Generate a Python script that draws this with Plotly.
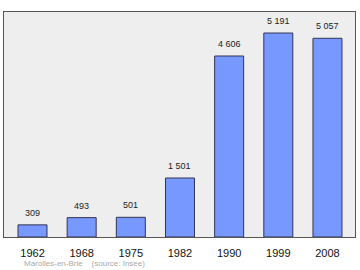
import plotly.graph_objects as go

years = ["1962", "1968", "1975", "1982", "1990", "1999", "2008"]
population = [309, 493, 501, 1501, 4606, 5191, 5057]
labels = [f"{v:,}".replace(",", " ") for v in population]
source_text = "Marolles-en-Brie    (source: Insee)"

fig = go.Figure()
fig.add_trace(go.Bar(
    x=years, y=population, width=0.59,
    marker=dict(color="#7799ff", line=dict(color="#333355", width=1)),
    hoverinfo="skip",
))
for i, (v, t) in enumerate(zip(population, labels)):
    fig.add_annotation(x=i, y=v, xref="x", yref="y", text=t, showarrow=False, yanchor="bottom",
                       yshift=5, font=dict(family="Liberation Sans", size=9, color="#222"))
fig.add_annotation(xref="paper", yref="paper", x=0.05, y=-0.09, xanchor="left", yanchor="top",
                   text=source_text, showarrow=False,
                   font=dict(family="Liberation Sans", size=8, color="#aaaaaa"))

fig.update_layout(
    width=360, height=270,
    margin=dict(l=4, r=5, t=12, b=33),
    paper_bgcolor="white", plot_bgcolor="#eeeeee",
    showlegend=False,
    xaxis=dict(type="category", range=[-0.58, 6.56], showline=True, mirror=True,
               linecolor="#555555", linewidth=1, ticks="outside", ticklen=6,
               tickcolor="rgba(0,0,0,0)", showgrid=False,
               tickfont=dict(family="Liberation Sans", size=11, color="#111")),
    yaxis=dict(range=[0, 5726], showline=True, mirror=True, linecolor="#555555",
               linewidth=1, showticklabels=False, showgrid=False, zeroline=False, ticks=""),
)
fig.write_html("out.html")
